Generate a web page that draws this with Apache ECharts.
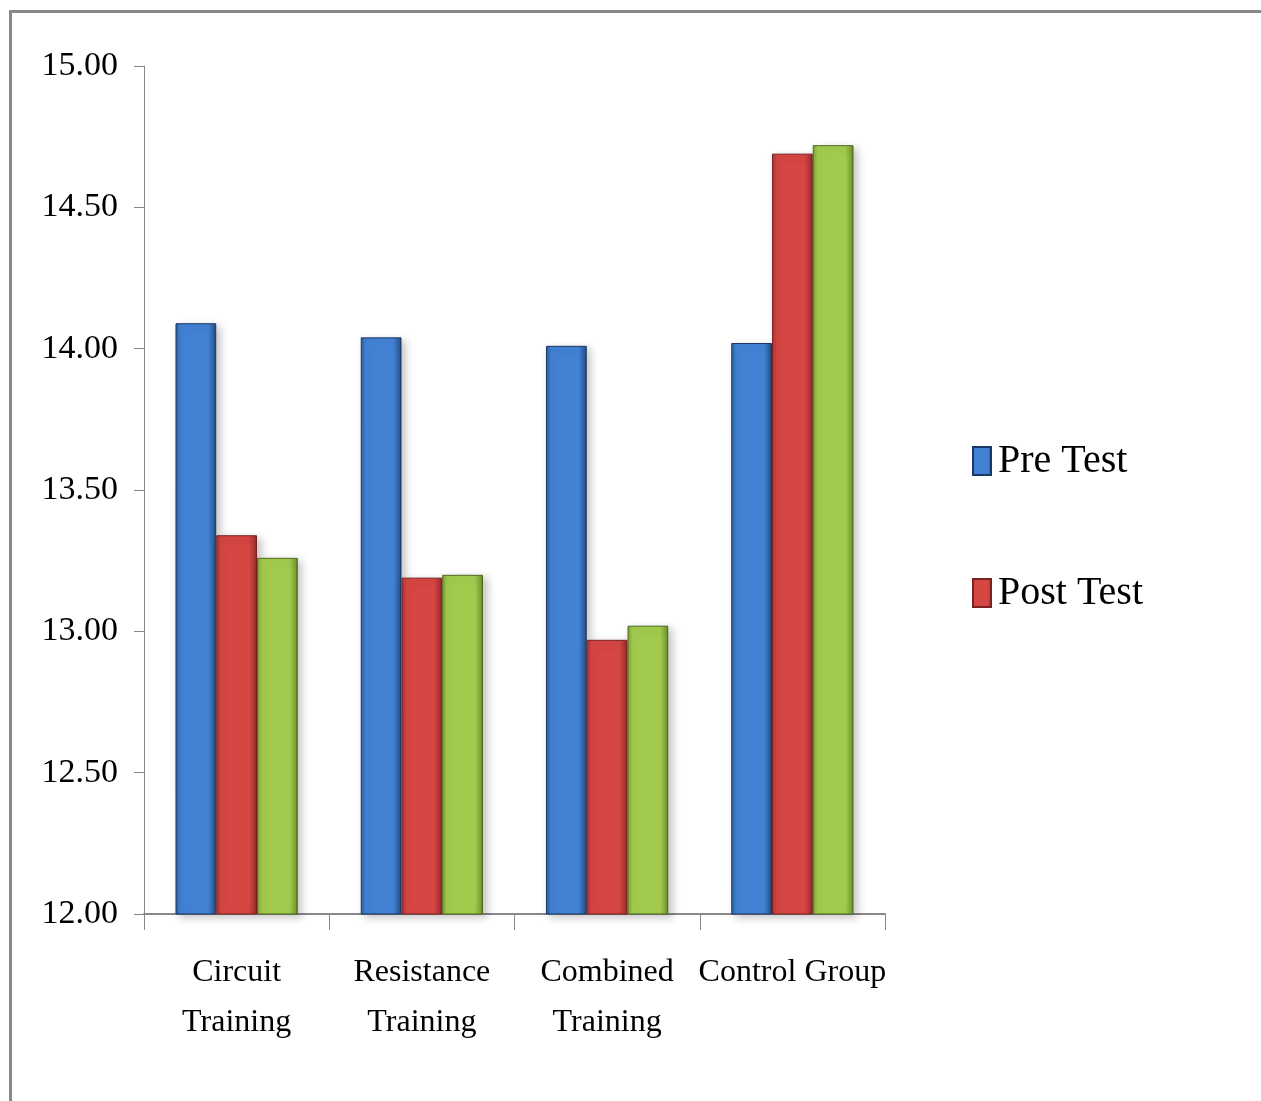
<!DOCTYPE html>
<html>
<head>
<meta charset="utf-8">
<title>Pre / Post Test</title>
<script src="https://cdn.jsdelivr.net/npm/echarts@6/dist/echarts.min.js"></script>
<style>
  html, body { margin: 0; padding: 0; background: #fff; }
  #chart { width: 1261px; height: 1101px; }
</style>
</head>
<body>
<div id="chart"></div>
<script>
// data
const categories = ['Circuit\nTraining', 'Resistance\nTraining', 'Combined\nTraining', 'Control Group']
const preTest = [14.09, 14.04, 14.01, 14.02]
const postTest = [13.34, 13.19, 12.97, 14.69]
const series3 = [13.26, 13.20, 13.02, 14.72]
const yTicks = { min: 12, max: 15, interval: 0.5 }

const font = '"Liberation Serif", "Times New Roman", serif'

// bevel-ish look: dark edges, lighter middle
const barColor = (edge, mid, dark) => ({
  type: 'linear', x: 0, y: 0, x2: 1, y2: 0,
  colorStops: [
    { offset: 0, color: edge },
    { offset: 0.12, color: mid },
    { offset: 0.8, color: mid },
    { offset: 0.95, color: edge },
    { offset: 1, color: dark },
  ],
})

const makeSeries = (name, data, edge, mid, dark) => ({
  name,
  type: 'bar',
  data,
  barGap: 0,
  barCategoryGap: '34%',
  itemStyle: {
    color: barColor(edge, mid, dark),
    borderColor: dark,
    borderWidth: 1,
    shadowColor: 'rgba(0,0,0,0.22)',
    shadowBlur: 8,
    shadowOffsetX: 4,
    shadowOffsetY: 3,
  },
  animation: false,
})

const chart = echarts.init(document.getElementById('chart'))
chart.setOption({
  backgroundColor: '#fff',
  graphic: [
    // the frame round the picture (top and left edges only)
    { type: 'line', shape: { x1: 10, y1: 11.5, x2: 1261, y2: 11.5 }, style: { stroke: '#888', lineWidth: 3 } },
    { type: 'line', shape: { x1: 10.5, y1: 10, x2: 10.5, y2: 1101 }, style: { stroke: '#888', lineWidth: 3 } },
  ],
  legend: {
    data: ['Pre Test', 'Post Test'],
    orient: 'vertical',
    left: 967,
    top: 436,
    icon: 'rect',
    itemWidth: 18,
    itemHeight: 28,
    itemGap: 92,
    textStyle: { fontFamily: font, fontSize: 40, color: '#000', padding: [0, 0, 0, 2] },
  },
  grid: { left: 144, top: 66, right: 376, bottom: 187 },
  xAxis: {
    type: 'category',
    data: categories,
    axisLine: { lineStyle: { color: '#888', width: 2 } },
    axisTick: { show: true, length: 16, lineStyle: { color: '#888' } },
    axisLabel: {
      fontFamily: font,
      fontSize: 32,
      color: '#000',
      margin: 34,
      lineHeight: 50,
      interval: 0,
    },
  },
  yAxis: {
    type: 'value',
    min: yTicks.min,
    max: yTicks.max,
    interval: yTicks.interval,
    axisLine: { show: true, lineStyle: { color: '#888', width: 1 } },
    axisTick: { show: true, length: 10, lineStyle: { color: '#888' } },
    splitLine: { show: false },
    axisLabel: {
      fontFamily: font,
      fontSize: 34,
      color: '#000',
      margin: 26,
      formatter: (v) => v.toFixed(2),
    },
  },
  series: [
    makeSeries('Pre Test', preTest, '#2d5b98', '#4282d4', '#1b3966'),
    makeSeries('Post Test', postTest, '#a83332', '#d64643', '#7a2221'),
    makeSeries('Series 3', series3, '#7c9f36', '#a2cb4e', '#4f6a20'),
  ],
})
</script>
</body>
</html>
